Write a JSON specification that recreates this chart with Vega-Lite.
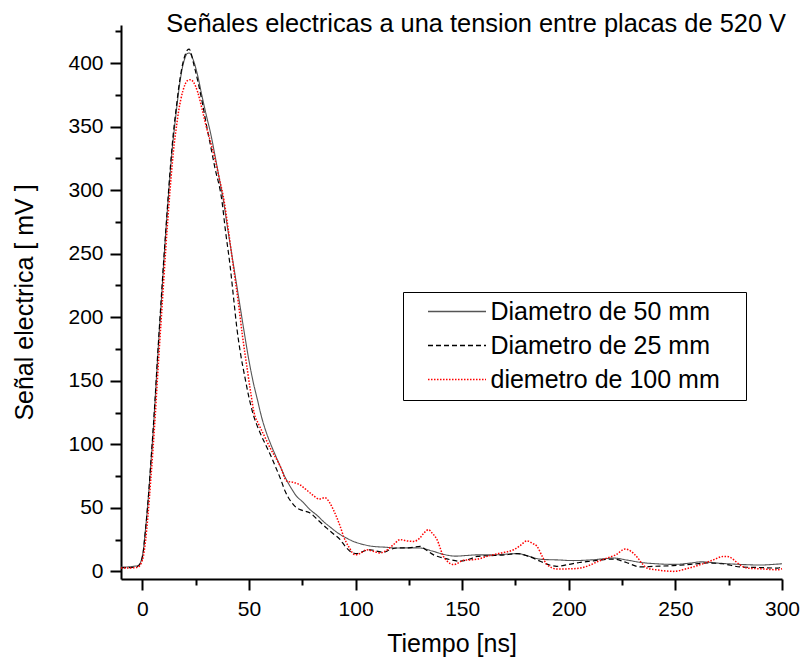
{
  "$schema": "https://vega.github.io/schema/vega-lite/v6.json",
  "width": 661,
  "height": 554,
  "autosize": "none",
  "padding": {"left": 121, "top": 25, "right": 21, "bottom": 84},
  "background": "white",
  "config": {"view": {"stroke": null}, "font": "Liberation Sans"},
  "title": {
    "text": "Señales electricas a una tension entre placas de 520 V",
    "anchor": "end", "frame": "group", "fontSize": 25.4, "fontWeight": "normal",
    "font": "Liberation Sans", "color": "black", "baseline": "alphabetic",
    "offset": 0, "dy": 37, "dx": 4
  },
  "datasets": {
    "s50": [
      {"t":-10,"v":3.5},{"t":-7,"v":3.5},{"t":-4,"v":4},{"t":-2,"v":4.5},{"t":-1,"v":6.5},{"t":0,"v":12},{"t":0.5,"v":17},{"t":1,"v":25},{"t":2,"v":42},{"t":3,"v":62},{"t":4,"v":85},{"t":5,"v":108},{"t":6,"v":135},{"t":7,"v":163},{"t":8,"v":190},{"t":9,"v":215},{"t":10,"v":242},{"t":11,"v":267},{"t":12,"v":290},{"t":13,"v":312},{"t":14,"v":332},{"t":15,"v":348},{"t":16,"v":363},{"t":17,"v":377},{"t":18,"v":389},{"t":19,"v":398},{"t":20,"v":404},{"t":21,"v":407.5},{"t":22,"v":408},{"t":23,"v":406},{"t":24,"v":402},{"t":26,"v":390},{"t":28,"v":374},{"t":30,"v":359},{"t":32,"v":345},{"t":34,"v":328},{"t":36,"v":310},{"t":38,"v":292},{"t":40,"v":270},{"t":42,"v":249},{"t":44,"v":228},{"t":46,"v":207},{"t":48,"v":186},{"t":50,"v":166},{"t":52,"v":149},{"t":54,"v":135},{"t":56,"v":121},{"t":58,"v":110},{"t":60,"v":101},{"t":62,"v":93},{"t":64.6,"v":83},{"t":67,"v":74},{"t":70,"v":65},{"t":72.4,"v":59},{"t":75,"v":55},{"t":78.7,"v":48.5},{"t":82,"v":44},{"t":84.9,"v":39.3},{"t":88,"v":35},{"t":92.8,"v":29},{"t":96,"v":26},{"t":99,"v":23.6},{"t":104,"v":21},{"t":108,"v":19.7},{"t":114,"v":19},{"t":119,"v":18.4},{"t":125,"v":18.5},{"t":130,"v":18.4},{"t":136,"v":16},{"t":141,"v":13.5},{"t":147,"v":12},{"t":152,"v":12.5},{"t":157,"v":13},{"t":165,"v":13},{"t":170,"v":13.5},{"t":176,"v":14},{"t":181,"v":12},{"t":187,"v":9.5},{"t":195,"v":9},{"t":202,"v":8.5},{"t":210,"v":9},{"t":217,"v":10},{"t":221,"v":10.5},{"t":227,"v":9},{"t":234,"v":7},{"t":241,"v":6},{"t":249,"v":5.5},{"t":257,"v":6.5},{"t":262,"v":7.5},{"t":270,"v":6.5},{"t":280,"v":5.5},{"t":290,"v":5},{"t":296,"v":5.5},{"t":300,"v":6}
    ],
    "s25": [
      {"t":-10,"v":3},{"t":-6,"v":3},{"t":-3,"v":3.5},{"t":-1,"v":6},{"t":0,"v":11},{"t":0.5,"v":16},{"t":1,"v":24},{"t":2,"v":42},{"t":3,"v":62},{"t":4,"v":86},{"t":5,"v":110},{"t":6,"v":136},{"t":7,"v":165},{"t":8,"v":192},{"t":9,"v":218},{"t":10,"v":244},{"t":11,"v":268},{"t":12,"v":292},{"t":13,"v":315},{"t":14,"v":335},{"t":15,"v":352},{"t":16,"v":366},{"t":17,"v":380},{"t":18,"v":391},{"t":19,"v":400},{"t":20,"v":406},{"t":21,"v":410},{"t":22,"v":411},{"t":23,"v":407},{"t":24,"v":400},{"t":26,"v":386},{"t":28,"v":370},{"t":30.5,"v":347.5},{"t":32,"v":335},{"t":34,"v":318},{"t":37.3,"v":292},{"t":39,"v":268},{"t":41.2,"v":240},{"t":43,"v":212},{"t":44.3,"v":192},{"t":46,"v":172},{"t":48.2,"v":152},{"t":50,"v":137},{"t":52.1,"v":123},{"t":54,"v":114},{"t":55.5,"v":108},{"t":58,"v":99},{"t":60,"v":92},{"t":62.3,"v":83},{"t":65,"v":72},{"t":67,"v":63},{"t":69.3,"v":56},{"t":72.4,"v":50},{"t":75,"v":48},{"t":78.7,"v":46},{"t":82,"v":41},{"t":86.5,"v":34},{"t":90,"v":29},{"t":92.8,"v":25},{"t":95,"v":20},{"t":97.5,"v":15.7},{"t":100.6,"v":14},{"t":104,"v":16},{"t":106.9,"v":17},{"t":110,"v":16},{"t":113.1,"v":15},{"t":116,"v":17},{"t":119.4,"v":18.4},{"t":125,"v":18.5},{"t":130.3,"v":19.7},{"t":133,"v":17},{"t":136.6,"v":13},{"t":140,"v":11},{"t":144.4,"v":9.2},{"t":149,"v":8},{"t":153.8,"v":9.8},{"t":157,"v":11.8},{"t":165,"v":12.5},{"t":170,"v":13},{"t":175.7,"v":14},{"t":181,"v":12},{"t":186.6,"v":8},{"t":191,"v":5},{"t":194.4,"v":4},{"t":200,"v":5.5},{"t":205,"v":7},{"t":210,"v":8},{"t":215,"v":9},{"t":221,"v":9.7},{"t":227,"v":7},{"t":233.6,"v":3.5},{"t":240,"v":4},{"t":249,"v":4.5},{"t":257,"v":5.5},{"t":265,"v":6.6},{"t":272,"v":6},{"t":280.5,"v":3.5},{"t":290,"v":3},{"t":298,"v":2.6},{"t":300,"v":4}
    ],
    "s100": [
      {"t":-10,"v":2.7},{"t":-6,"v":2.7},{"t":-3,"v":3},{"t":-1.5,"v":4},{"t":-0.5,"v":6.6},{"t":0.5,"v":12},{"t":1.5,"v":24},{"t":2.6,"v":43},{"t":4,"v":73},{"t":5,"v":96},{"t":6,"v":121},{"t":7,"v":149},{"t":8,"v":176},{"t":9,"v":202},{"t":10,"v":228},{"t":11,"v":254},{"t":12,"v":278},{"t":13,"v":300},{"t":14,"v":320},{"t":15,"v":337},{"t":16,"v":350},{"t":17,"v":362},{"t":18,"v":371},{"t":19,"v":378},{"t":20,"v":383},{"t":21,"v":386},{"t":22.7,"v":387},{"t":24,"v":385},{"t":26,"v":377},{"t":28,"v":364},{"t":30,"v":350},{"t":32,"v":338},{"t":34,"v":325},{"t":36,"v":310},{"t":38.3,"v":292},{"t":40.4,"v":268},{"t":42.5,"v":242},{"t":45,"v":212},{"t":47,"v":185},{"t":49.3,"v":158},{"t":50.9,"v":140},{"t":52.4,"v":125},{"t":54.5,"v":116},{"t":56.8,"v":108},{"t":60,"v":97},{"t":64.6,"v":83},{"t":67.8,"v":71},{"t":70.9,"v":70},{"t":74,"v":68},{"t":77.1,"v":64},{"t":80,"v":60},{"t":83,"v":57},{"t":85.7,"v":58},{"t":87.5,"v":55},{"t":89.6,"v":48.5},{"t":92.8,"v":35.4},{"t":94.5,"v":27},{"t":96.7,"v":19.7},{"t":99.8,"v":13.1},{"t":102,"v":14},{"t":105.3,"v":17},{"t":108,"v":16},{"t":111.5,"v":14.5},{"t":114,"v":16},{"t":117.8,"v":21},{"t":120.9,"v":25},{"t":124,"v":24},{"t":127.2,"v":23.6},{"t":130,"v":26},{"t":132,"v":30},{"t":134.2,"v":32.8},{"t":136,"v":30},{"t":138.2,"v":25},{"t":141.2,"v":11.8},{"t":143,"v":8},{"t":146,"v":5.3},{"t":150.7,"v":8.7},{"t":155.3,"v":9.2},{"t":157.7,"v":9.8},{"t":162,"v":12},{"t":167.9,"v":14.4},{"t":174.1,"v":17},{"t":177,"v":20},{"t":180.4,"v":24},{"t":183,"v":22},{"t":185.1,"v":19.7},{"t":187.5,"v":12},{"t":189.8,"v":5.3},{"t":194.4,"v":1.9},{"t":200,"v":2},{"t":205.4,"v":2.6},{"t":210,"v":5},{"t":214,"v":8},{"t":217.9,"v":10.5},{"t":222,"v":13},{"t":226.5,"v":17.6},{"t":229,"v":16},{"t":232,"v":11.3},{"t":234.5,"v":6},{"t":236.7,"v":2.6},{"t":242,"v":1},{"t":249.2,"v":0},{"t":255,"v":2},{"t":261.7,"v":5.3},{"t":267,"v":8.5},{"t":272.7,"v":11.8},{"t":275,"v":11.5},{"t":277.3,"v":9.2},{"t":280,"v":5.5},{"t":283.6,"v":2.6},{"t":290,"v":2},{"t":297.7,"v":1.3},{"t":300,"v":2}
    ]
  },
  "encoding": {
    "x": {
      "field": "t", "type": "quantitative",
      "scale": {"domain": [-10, 300], "nice": false, "zero": false},
      "axis": {
        "title": "Tiempo [ns]",
        "values": [0,25,50,75,100,125,150,175,200,225,250,275,300],
        "labelExpr": "datum.value % 50 === 0 ? datum.label : ''",
        "tickSize": {"condition": {"test": "datum.value % 50 === 0", "value": 11}, "value": 6},
        "tickWidth": 2, "tickColor": "black", "domainWidth": 2, "domainColor": "black",
        "labelFontSize": 21, "labelColor": "black", "labelPadding": 8, "labelFlush": false, "labelOverlap": false,
        "grid": false, "titleFontSize": 25, "titleFontWeight": "normal", "titleColor": "black", "titlePadding": 12,
        "labelFont": "Liberation Sans", "titleFont": "Liberation Sans"
      }
    },
    "y": {
      "field": "v", "type": "quantitative",
      "scale": {"domain": [-6, 430], "nice": false, "zero": false},
      "axis": {
        "title": "Señal electrica [ mV ]",
        "values": [0,25,50,75,100,125,150,175,200,225,250,275,300,325,350,375,400,425],
        "labelExpr": "datum.value % 50 === 0 ? datum.label : ''",
        "tickSize": {"condition": {"test": "datum.value % 50 === 0", "value": 11}, "value": 6},
        "tickWidth": 2, "tickColor": "black", "domainWidth": 2, "domainColor": "black",
        "labelFontSize": 21, "labelColor": "black", "labelPadding": 7, "labelFlush": false, "labelOverlap": false,
        "grid": false, "titleFontSize": 25, "titleFontWeight": "normal", "titleColor": "black", "titlePadding": 30,
        "labelFont": "Liberation Sans", "titleFont": "Liberation Sans"
      }
    },
    "color": {
      "datum": "Diametro de 50 mm", "type": "nominal",
      "scale": {"domain": ["Diametro de 50 mm", "Diametro de 25 mm", "diemetro de 100 mm"], "range": ["#555555", "#000000", "#ff0000"]},
      "legend": {
        "title": "\u00a0", "titleOrient": "right", "titlePadding": 19, "titleFontSize": 2,
        "orient": "none", "legendX": 282, "legendY": 267,
        "strokeColor": "black", "fillColor": "white", "padding": 7,
        "symbolType": "M-1,0H4.8", "symbolSize": 400, "symbolStrokeWidth": 1.5, "symbolOffset": 15.5,
        "labelOffset": 40, "labelFontSize": 25, "labelFont": "Liberation Sans", "labelColor": "black", "labelLimit": 500,
        "rowPadding": 8
      }
    }
  },
  "layer": [
    {
      "data": {"name": "s50"},
      "mark": {"type": "line", "interpolate": "monotone", "strokeWidth": 1.1},
      "encoding": {
        "color": {"datum": "Diametro de 50 mm", "type": "nominal"},
        "strokeDash": {"datum": "Diametro de 50 mm", "type": "nominal",
          "scale": {"domain": ["Diametro de 50 mm", "Diametro de 25 mm", "diemetro de 100 mm"], "range": [[1, 0], [5, 3], [1.5, 1.5]]},
          "legend": {
            "title": "\u00a0", "titleOrient": "right", "titlePadding": 19, "titleFontSize": 2,
            "orient": "none", "legendX": 282, "legendY": 267,
            "strokeColor": "black", "fillColor": "white", "padding": 7,
            "symbolType": "M-1,0H4.8", "symbolSize": 400, "symbolStrokeWidth": 1.5, "symbolOffset": 15.5,
            "labelOffset": 40, "labelFontSize": 25, "labelFont": "Liberation Sans", "labelColor": "black", "labelLimit": 500,
            "rowPadding": 8
          }
        }
      }
    },
    {
      "data": {"name": "s25"},
      "mark": {"type": "line", "interpolate": "monotone", "strokeWidth": 1.2},
      "encoding": {
        "color": {"datum": "Diametro de 25 mm", "type": "nominal"},
        "strokeDash": {"datum": "Diametro de 25 mm", "type": "nominal"}
      }
    },
    {
      "data": {"name": "s100"},
      "mark": {"type": "line", "interpolate": "monotone", "strokeWidth": 1.5},
      "encoding": {
        "color": {"datum": "diemetro de 100 mm", "type": "nominal"},
        "strokeDash": {"datum": "diemetro de 100 mm", "type": "nominal"}
      }
    }
  ]
}
